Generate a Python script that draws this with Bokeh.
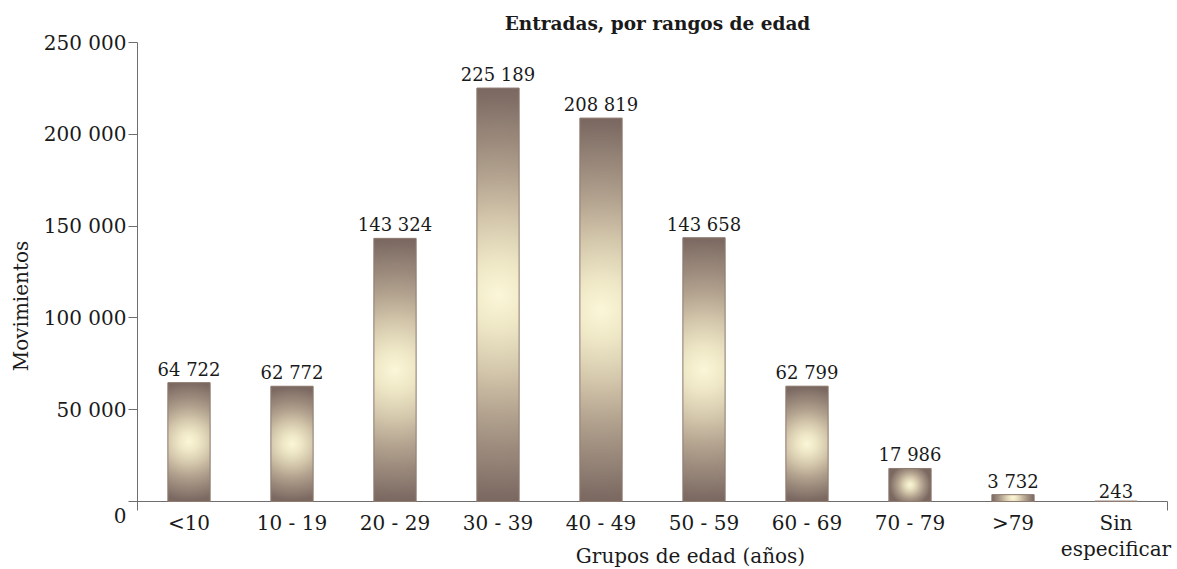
import numpy as np
from bokeh.plotting import figure
from bokeh.models import FixedTicker, LabelSet, Label, ColumnDataSource, Range1d
from bokeh.core.properties import value
from bokeh.embed import file_html
from bokeh.resources import INLINE

categories = ["<10", "10 - 19", "20 - 29", "30 - 39", "40 - 49", "50 - 59",
              "60 - 69", "70 - 79", ">79", "Sin\nespecificar"]
values = [64722, 62772, 143324, 225189, 208819, 143658, 62799, 17986, 3732, 243]
y_ticks = [0, 50000, 100000, 150000, 200000, 250000]
y_tick_labels = ["\n0", "50 000", "100 000", "150 000", "200 000", "250 000"]
title_text = "Entradas, por rangos de edad"
x_title = "Grupos de edad (años)"
y_title = "Movimientos"

FONT = "DejaVu Serif"
TXT = "#1a1a1a"
AX = "#6e6e6e"
W, H = 1177, 569
BL, BT = 137, 42          # frame left / top in px
ZERO_PX = 501             # pixel row of y = 0
n = len(categories)
xpos = np.arange(1, n + 1)
PX_PER_X = 103.0
x0 = 0.5
x1 = x0 + (W - BL) / PX_PER_X
y_top = 250000
px_per_y = (ZERO_PX - BT) / y_top
y0 = -(H - ZERO_PX) / px_per_y
y_ext = -9 / px_per_y      # short extension of the axes below zero
bar_w = 0.41

p = figure(width=W, height=H, output_backend="svg", toolbar_location=None,
           x_range=Range1d(x0, x1), y_range=Range1d(y0, y_top),
           x_axis_location=None,
           min_border_left=BL, min_border_right=0, min_border_top=BT, min_border_bottom=0)
p.outline_line_color = None
p.xgrid.grid_line_color = None
p.ygrid.grid_line_color = None

p.title.text = title_text
p.title.align = "center"
p.title.text_font = FONT
p.title.text_font_style = "bold"
p.title.text_font_size = "18.5px"
p.title.text_color = TXT
p.title.standoff = 17

# y axis
p.yaxis.ticker = FixedTicker(ticks=y_ticks)
p.yaxis.major_label_overrides = {t: l for t, l in zip(y_ticks, y_tick_labels)}
p.yaxis.bounds = (y_ext, y_top)
p.yaxis.minor_tick_line_color = None
p.yaxis.major_tick_in = 0
p.yaxis.major_tick_out = 9
p.yaxis.major_label_standoff = 2
p.yaxis.major_label_text_font = FONT
p.yaxis.major_label_text_font_size = "20px"
p.yaxis.major_label_text_color = TXT
p.yaxis.axis_line_color = AX
p.yaxis.major_tick_line_color = AX
p.yaxis.axis_label = y_title
p.yaxis.axis_label_text_font = FONT
p.yaxis.axis_label_text_font_size = "20px"
p.yaxis.axis_label_text_font_style = "normal"
p.yaxis.axis_label_text_color = TXT
p.yaxis.axis_label_standoff = 8

# baseline and right-end tick
p.segment(x0=[x0], y0=[0], x1=[n + 0.5], y1=[0], line_color=AX, line_width=1)
p.segment(x0=[n + 0.5], y0=[0], x1=[n + 0.5], y1=[y_ext], line_color=AX, line_width=1)

# bars: base fill
lines = [c.split("\n") for c in categories]
src = ColumnDataSource(dict(
    x=xpos, top=values,
    cat1=[l[0] for l in lines],
    cat2=[l[1] if len(l) > 1 else "" for l in lines],
    lab=[f"{v:,}".replace(",", " ") for v in values]))
p.vbar(x="x", top="top", width=bar_w, bottom=0, source=src,
       fill_color="#b8a690", line_color=None)

# radial gradient images per bar
stops_r = [0.0, 0.15, 0.35, 0.6, 1.0]
stops_c = np.array([[251, 247, 216], [240, 233, 200], [215, 203, 175],
                    [176, 160, 141], [122, 104, 97]], dtype=float)
for xi, v in zip(xpos, values):
    w_px = bar_w * PX_PER_X
    h_px = v * px_per_y
    nw = max(1, int(round(w_px)))
    nh = max(1, int(round(h_px)))
    R = max(nw, nh) / 2.0
    gx = np.arange(nw) + 0.5 - nw / 2.0
    gy = np.arange(nh) + 0.5 - nh / 2.0
    X, Y = np.meshgrid(gx, gy)
    r = np.clip(np.sqrt(X ** 2 + Y ** 2) / R, 0, 1)
    img = np.empty((nh, nw), dtype=np.uint32)
    view = img.view(dtype=np.uint8).reshape((nh, nw, 4))
    for c in range(3):
        view[:, :, c] = np.interp(r, stops_r, stops_c[:, c]).astype(np.uint8)
    view[:, :, 3] = 255
    p.image_rgba(image=[img], x=[xi - bar_w / 2], y=[0], dw=[bar_w], dh=[v])

# thin outline
p.vbar(x="x", top="top", width=bar_w, bottom=0, source=src,
       fill_alpha=0, line_color="#8f7b70", line_width=1)

# value labels
p.add_layout(LabelSet(x="x", y="top", text="lab", source=src, y_offset=3,
                      text_align="center", text_baseline="bottom",
                      text_font=value(FONT), text_font_size=value("18px"),
                      text_color=value(TXT)))
# category labels (two lines)
p.add_layout(LabelSet(x="x", y=0, text="cat1", source=src, y_offset=-21,
                      text_align="center", text_baseline="middle",
                      text_font=value(FONT), text_font_size=value("20px"),
                      text_color=value(TXT)))
p.add_layout(LabelSet(x="x", y=0, text="cat2", source=src, y_offset=-47,
                      text_align="center", text_baseline="middle",
                      text_font=value(FONT), text_font_size=value("20px"),
                      text_color=value(TXT)))
# x axis title (screen units relative to the frame)
p.add_layout(Label(x=553, y=14, x_units="screen", y_units="screen", text=x_title,
                   text_align="center", text_baseline="middle",
                   text_font=FONT, text_font_size="20px", text_color=TXT))

open("out.html", "w").write(file_html(p, INLINE))
